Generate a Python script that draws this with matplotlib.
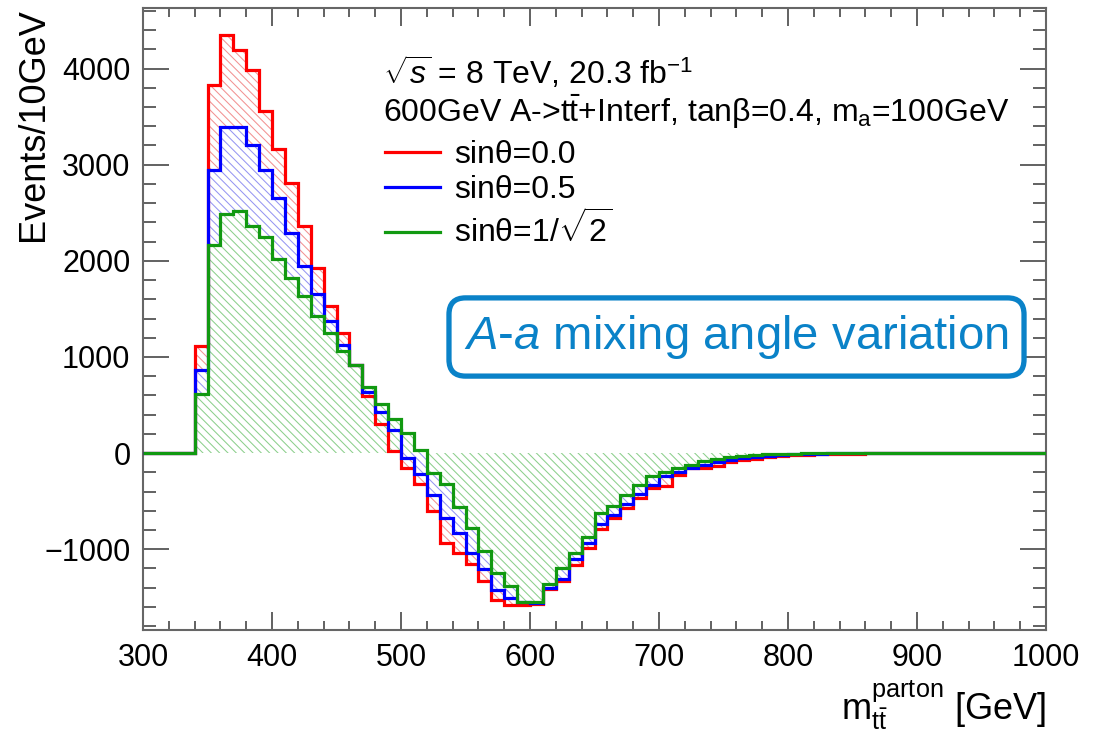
import numpy as np
import matplotlib
matplotlib.use("Agg")
import matplotlib.pyplot as plt
from matplotlib.ticker import MultipleLocator

plt.rcParams['font.family'] = ['Liberation Sans', 'DejaVu Sans']
plt.rcParams['mathtext.fontset'] = 'custom'
plt.rcParams['mathtext.rm'] = 'Liberation Sans'
plt.rcParams['mathtext.it'] = 'Liberation Sans:italic'
plt.rcParams['mathtext.bf'] = 'Liberation Sans:bold'
plt.rcParams['hatch.linewidth'] = 0.75

# ---------------- data ----------------
x_min, x_max, bin_width = 300, 1000, 10

labels = ["sinθ=0.0", "sinθ=0.5", r"sinθ=1/$\sqrt{2}$"]

sin_00 = [0, 0, 0, 0,
          1110, 3825, 4345, 4190, 3980, 3555,
          3165, 2810, 2360, 1925, 1535, 1250, 920, 590, 305, 18,
          -150, -318, -600, -933, -1037, -1152, -1330, -1529, -1580, -1575,
          -1565, -1418, -1330, -1160, -986, -785, -674, -570, -466, -360,
          -345, -225, -160, -150, -130, -95, -70, -60, -40, -30,
          -20, -15, -10, -8, -5, -6, -3, -4, -2, 2,
          -3, 2, 4, -2, 3, 5, 2, 3, 4, 2]

sin_05 = [0, 0, 0, 0,
          860, 2940, 3390, 3390, 3205, 2940,
          2655, 2290, 1945, 1660, 1370, 1128, 920, 640, 430, 237,
          -50, -215, -432, -680, -830, -1035, -1210, -1420, -1510, -1545,
          -1555, -1400, -1310, -1100, -935, -740, -645, -530, -430, -327,
          -241, -200, -150, -125, -95, -70, -55, -40, -30, -20,
          -12, -8, -5, -4, -3, -2, -3, -1, 2, -2,
          3, 1, -2, 2, 1, 3, 2, 1, 2, 1]

sin_07 = [0, 0, 0, 0,
          610, 2160, 2490, 2515, 2365, 2245,
          2020, 1820, 1630, 1423, 1250, 1060, 920, 690, 510, 360,
          205, 36, -203, -320, -559, -777, -1020, -1245, -1383, -1550,
          -1550, -1360, -1200, -1044, -870, -622, -546, -440, -336, -241,
          -195, -160, -125, -85, -61, -40, -26, -18, -12, -8,
          -5, -3, -2, -1, 0, 0, 0, 0, 0, 0,
          0, 0, 0, 0, 0, 0, 0, 0, 0, 0]

series = [sin_00, sin_05, sin_07]
line_colors = ['#ff0000', '#0000ff', '#119911']
hatch_colors = ['#f29292', '#9696f2', '#8ccf8c']

# ---------------- figure ----------------
fig = plt.figure(figsize=(11.07, 7.44), dpi=100)
ax = fig.add_axes([143/1107, 1 - 630/744, (1046-143)/1107, (630-8)/744])

edges = np.arange(x_min, x_max + bin_width, bin_width)

for vals, hc in zip(series, hatch_colors):
    ax.stairs(vals, edges, baseline=0, fill=True, facecolor='white',
              edgecolor=hc, hatch='\\\\\\\\', linewidth=0, zorder=1)

handles = []
for vals, lc in zip(series, line_colors):
    h = ax.stairs(vals, edges, baseline=None, color=lc, linewidth=2.3, zorder=3)
    handles.append(h)

ax.set_xlim(x_min, x_max)
ax.set_ylim(-1840, 4630)

ax.xaxis.set_major_locator(MultipleLocator(100))
ax.xaxis.set_minor_locator(MultipleLocator(20))
ax.yaxis.set_major_locator(MultipleLocator(1000))
ax.yaxis.set_minor_locator(MultipleLocator(200))
ax.tick_params(which='both', direction='in', top=True, right=True,
               color='#555555', width=1.3)
ax.tick_params(axis='y', which='major', length=19, labelsize=22, pad=9)
ax.tick_params(axis='y', which='minor', length=9.5)
ax.tick_params(axis='x', which='major', length=13, labelsize=22, pad=9)
ax.tick_params(axis='x', which='minor', length=6.5)
for sp in ax.spines.values():
    sp.set_color('#666666')
    sp.set_linewidth(1.5)

ax.set_xlabel(r"m$_{\mathrm{t\bar{t}}}^{\mathrm{parton}}$ [GeV]", fontsize=26,
              loc='right', labelpad=4)
ax.set_ylabel("Events/10GeV", fontsize=26, loc='top', labelpad=-5)

fig.text(383/1107, 1 - 73/744, r"$\sqrt{s}$ = 8 TeV, 20.3 fb$^{-1}$",
         fontsize=23, ha='left', va='center')
fig.text(383/1107, 1 - 112/744,
         r"600GeV A->t$\bar{\mathrm{t}}$+Interf, tanβ=0.4, m$_{\mathrm{a}}$=100GeV",
         fontsize=23, ha='left', va='center')

leg = ax.legend(handles, labels, loc='upper left',
                bbox_to_anchor=(385/1107, 1 - 140/744),
                bbox_transform=fig.transFigure, frameon=False, fontsize=23,
                handlelength=1.72, handletextpad=0.45, labelspacing=0.17,
                borderpad=0, borderaxespad=0)
for lh in leg.get_lines():
    lh.set_linewidth(2.3)

fig.text(736.5/1107, 1 - 337/744,
         r"$\mathit{A}$-$\mathit{a}$ mixing angle variation",
         fontsize=34, color='#0a82c8', ha='center', va='center',
         bbox=dict(boxstyle='round,pad=0.32,rounding_size=0.35',
                   facecolor='white', edgecolor='#0a82c8', linewidth=3.8))

fig.savefig("out.png", dpi=100)
